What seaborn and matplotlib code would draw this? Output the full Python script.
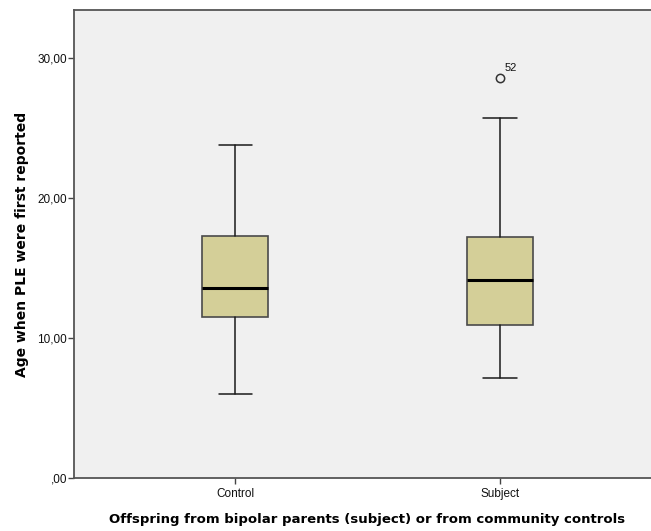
import matplotlib
matplotlib.use("Agg")
import matplotlib.pyplot as plt
import seaborn as sns

# summary values
groups = ["Control", "Subject"]
whisker_low = [6.0, 7.12]
q1 = [11.52, 10.9]
median = [13.57, 14.14]
q3 = [17.31, 17.21]
whisker_high = [23.79, 25.71]
outliers = [[], [28.6]]
outlier_ids = [[], ["52"]]

y_ticks = [0, 10, 20, 30]
y_tick_labels = [",00", "10,00", "20,00", "30,00"]

sns.set_style("white")
plt.rcParams['font.family'] = ['Liberation Sans', 'DejaVu Sans']

fig = plt.figure(figsize=(6.51, 5.31), dpi=100)
ax = fig.add_axes([74 / 651, 1 - 478 / 531, 1 - 74 / 651, (478 - 10) / 531])
ax.set_facecolor("#f0f0f0")

stats = []
for i, g in enumerate(groups):
    stats.append(dict(label=g, whislo=whisker_low[i], q1=q1[i], med=median[i],
                      q3=q3[i], whishi=whisker_high[i], fliers=outliers[i]))

ax.bxp(stats, positions=range(len(groups)), widths=0.25, patch_artist=True,
       boxprops=dict(facecolor="#d4cf98", edgecolor="#4a4a4a", linewidth=1.2),
       medianprops=dict(color="black", linewidth=2.2),
       whiskerprops=dict(color="#1a1a1a", linewidth=1.1),
       capprops=dict(color="#1a1a1a", linewidth=1.1),
       capwidths=0.125,
       flierprops=dict(marker="o", markersize=6, markerfacecolor="none",
                       markeredgecolor="#333333", markeredgewidth=1.1))

for i, pts in enumerate(outliers):
    for v, lab in zip(pts, outlier_ids[i]):
        ax.annotate(lab, (i, v), xytext=(3, 5), textcoords="offset points",
                    fontsize=8, color="#111111")

ax.set_xlim(-0.608, 1.57)
ax.set_ylim(0, 33.43)
ax.set_yticks(y_ticks)
ax.set_yticklabels(y_tick_labels)
ax.set_xticks(range(len(groups)))
ax.set_xticklabels(groups)
ax.tick_params(axis="both", direction="out", length=4, width=1, color="#444444",
               labelsize=8.5, labelcolor="#111111", left=True, bottom=True)
ax.tick_params(axis="y", pad=1)

for side in ["left", "bottom", "top"]:
    ax.spines[side].set_color("#555555")
    ax.spines[side].set_linewidth(1.3)
ax.spines["right"].set_visible(False)

ax.set_ylabel("Age when PLE were first reported", fontsize=10, fontweight="bold",
              family="DejaVu Sans", color="black", labelpad=6)
ax.set_xlabel("Offspring from bipolar parents (subject) or from community controls",
              fontsize=9.5, fontweight="bold", family="DejaVu Sans", color="black",
              labelpad=10)
ax.xaxis.set_label_coords(0.508, -0.075)

fig.savefig("out.png", dpi=100)
